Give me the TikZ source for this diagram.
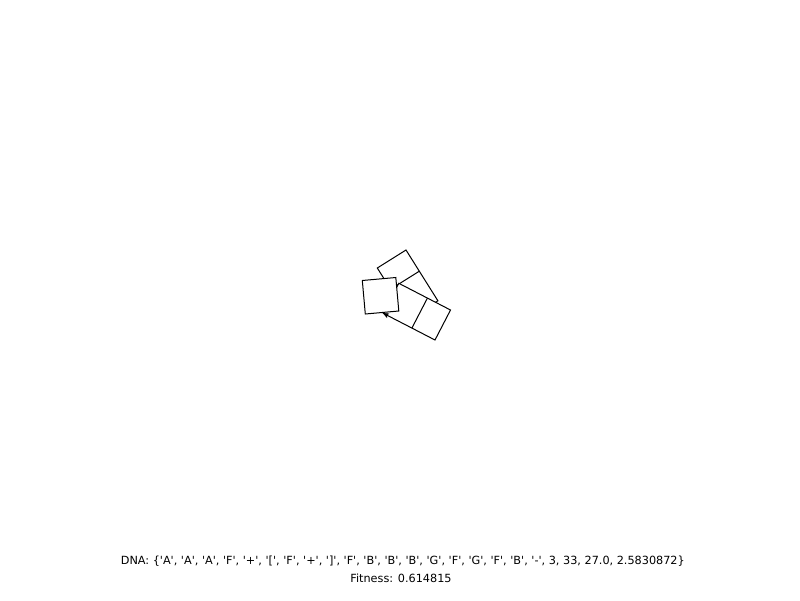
\documentclass[tikz,border=0pt]{standalone}
\usepackage{fontspec}
\setmainfont{DejaVu Sans}[Ligatures=TeXOff]

\begin{document}
\begin{tikzpicture}[x=1pt,y=-1pt]

		% Define styles
		\tikzstyle{cell} = [draw=black, fill=white, line width=1pt, line join=miter]
		\tikzstyle{seam} = [draw=black, line width=1pt]
		\tikzstyle{turtle} = [draw=black, fill=black, line width=0.5pt]
		\tikzstyle{caption} = [anchor=base, inner sep=0pt,
		font=\fontsize{11.25}{13}\selectfont]

		\useasboundingbox (0,0) rectangle (800,600);

		% Upper block
		\draw [cell] (406,250) -- (377.3,268) -- (409.2,318.8) -- (437.9,300.8) -- cycle;
		\draw [seam] (419.3,271.2) -- (390.6,289.2);

		% Lower block
		\draw [cell] (383.3,313.3) -- (398.8,283.3) -- (450.5,310) -- (435,340) -- cycle;
		\draw [seam] (427.4,298.1) -- (411.9,328.1);

		% Single square
		\draw [cell] (362.3,280.5) -- (395.8,277.5) -- (398.8,311) -- (365.3,314) -- cycle;

		% Turtle
		\draw [turtle] (383.3,313.3) -- (386.8,317.4) -- (386.8,315.2) -- (388.6,313.8) -- cycle;

		% Nodes
		\node (dna) [caption] at (402.8,564) {DNA: \{'A', 'A', 'A', 'F', '+', '[', 'F', '+', ']', 'F', 'B', 'B', 'B', 'G', 'F', 'G', 'F', 'B', '-', 3, 33, 27.0, 2.5830872\}};
		\node (fitness) [caption] at (401,582) {Fitness: 0.614815};

	\end{tikzpicture}
\end{document}
